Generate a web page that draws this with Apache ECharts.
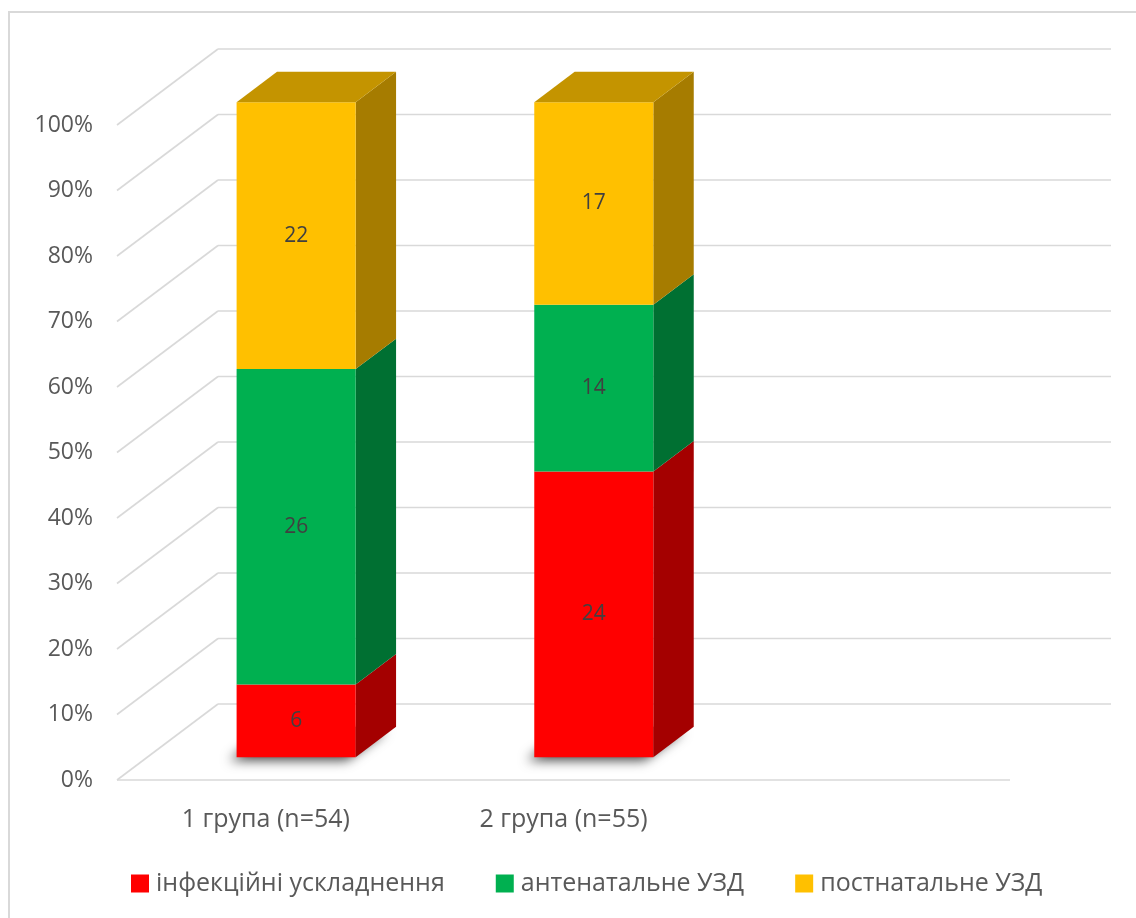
<!DOCTYPE html>
<html>
<head>
<meta charset="utf-8">
<script src="https://cdn.jsdelivr.net/npm/echarts@6/dist/echarts.min.js"></script>
<style>
  html, body { margin: 0; padding: 0; background: #ffffff; }
  #chart { width: 1136px; height: 918px; }
</style>
</head>
<body>
<div id="chart"></div>
<script>
// Groups on the category axis (the last slot is left empty, as in the 3D floor)
const categories = ['1 група (n=54)', '2 група (n=55)', ''];
const seriesNames = ['інфекційні ускладнення', 'антенатальне УЗД', 'постнатальне УЗД'];
// Patient counts per group
const infections = [6, 24];
const antenatal = [26, 14];
const postnatal = [22, 17];
// Value-axis ticks (percent)
const yTicks = [0, 10, 20, 30, 40, 50, 60, 70, 80, 90, 100];

const layers = [infections, antenatal, postnatal];
const faceColors = ['#FF0000', '#00B050', '#FFC000'];
const sideColors = ['#A40000', '#007032', '#A67C00'];
const topColors  = ['#C20000', '#008A3D', '#C49400'];

// Oblique projection: screen offset of the full floor depth
const DEPTH = [101, -76];
const BAR_NEAR = 0.30, BAR_FAR = 0.70;
const FONT = '"Open Sans", "DejaVu Sans", sans-serif';

const totals = infections.map((_, i) => layers.reduce((s, arr) => s + arr[i], 0));

// Build stacked 100% ranges [category, from%, to%, count] for every layer
function layerData(k) {
  return layers[k].map((count, i) => {
    let below = 0;
    for (let j = 0; j < k; j++) below += layers[j][i];
    const lo = below / totals[i] * 100;
    const hi = (below + count) / totals[i] * 100;
    return [i, lo, hi, count];
  });
}

// Back wall, side wall and floor lines for each tick
function renderWalls(params, api) {
  const v = api.value(1);
  const cs = params.coordSys;
  const y = api.coord([0, v])[1];
  const xL = cs.x, xR = cs.x + cs.width;
  const [dx, dy] = DEPTH;
  const style = { stroke: '#D9D9D9', lineWidth: 1.6, fill: null };
  const children = [
    { type: 'line', shape: { x1: xL, y1: y, x2: xL + dx, y2: y + dy }, style },
    { type: 'line', shape: { x1: xL + dx, y1: y + dy, x2: xR + dx, y2: y + dy }, style }
  ];
  if (v === 0) {
    children.push({ type: 'line', shape: { x1: xL, y1: y, x2: xR, y2: y }, style });
  }
  return { type: 'group', children };
}

// One stacked block drawn as a 3D box: front face, right side and (for the top layer) the lid
function makeBarRenderer(k) {
  return function (params, api) {
    const cat = api.value(0), lo = api.value(1), hi = api.value(2), count = api.value(3);
    const band = api.size([1, 0])[0];
    const w = band * 0.4;
    const pLo = api.coord([cat, lo]);
    const pHi = api.coord([cat, hi]);
    const ox = DEPTH[0] * BAR_NEAR, oy = DEPTH[1] * BAR_NEAR;
    const bx = DEPTH[0] * (BAR_FAR - BAR_NEAR), by = DEPTH[1] * (BAR_FAR - BAR_NEAR);
    const x0 = pLo[0] - w / 2 + ox, x1 = x0 + w;
    const yB = pLo[1] + oy, yT = pHi[1] + oy;
    const children = [];
    if (k === 0) {
      // soft contact shadow cast by the box footprint onto the floor
      children.push({
        type: 'polygon',
        shape: { points: [[x0 + 2, yB - 1], [x1, yB - 1], [x1 + bx - 1, yB + by], [x0 + bx, yB + by]] },
        style: { fill: '#888888', shadowBlur: 12, shadowColor: 'rgba(0,0,0,0.75)', shadowOffsetX: -9, shadowOffsetY: 4 }
      });
    }
    children.push({
      type: 'polygon',
      shape: { points: [[x1, yB], [x1 + bx, yB + by], [x1 + bx, yT + by], [x1, yT]] },
      style: { fill: sideColors[k] }
    });
    children.push({
      type: 'rect',
      shape: { x: x0, y: yT, width: w, height: yB - yT },
      style: { fill: faceColors[k] }
    });
    if (k === layers.length - 1) {
      children.push({
        type: 'polygon',
        shape: { points: [[x0, yT], [x0 + bx, yT + by], [x1 + bx, yT + by], [x1, yT]] },
        style: { fill: topColors[k] }
      });
    }
    children.push({
      type: 'text',
      style: {
        x: (x0 + x1) / 2, y: (yB + yT) / 2,
        text: String(count),
        fill: '#404040',
        font: '21px ' + FONT,
        align: 'center', verticalAlign: 'middle'
      }
    });
    return { type: 'group', children };
  };
}

const chart = echarts.init(document.getElementById('chart'), null, { renderer: 'canvas' });

const series = [{
  type: 'custom',
  name: 'walls',
  silent: true,
  z: 1,
  renderItem: renderWalls,
  encode: { x: 0, y: 1 },
  data: yTicks.map(v => [0, v])
}];
layers.forEach((_, k) => {
  series.push({
    type: 'custom',
    name: seriesNames[k],
    z: 2 + k,
    itemStyle: { color: faceColors[k] },
    renderItem: makeBarRenderer(k),
    encode: { x: 0, y: [1, 2] },
    data: layerData(k)
  });
});

chart.setOption({
  animation: false,
  backgroundColor: '#ffffff',
  graphic: [{
    type: 'rect',
    shape: { x: 9, y: 12, width: 1300, height: 1100 },
    style: { fill: null, stroke: '#D9D9D9', lineWidth: 2 },
    silent: true
  }],
  grid: { left: 117, right: 126, top: 125, bottom: 138 },
  xAxis: {
    type: 'category',
    data: categories,
    axisLine: { show: false },
    axisTick: { show: false },
    axisLabel: { margin: 27, color: '#595959', fontSize: 25, fontFamily: FONT }
  },
  yAxis: {
    type: 'value',
    min: 0, max: 100, interval: 10,
    axisLine: { show: false },
    axisTick: { show: false },
    splitLine: { show: false },
    axisLabel: { margin: 24, color: '#595959', fontSize: 23, fontFamily: FONT, formatter: '{value}%' }
  },
  legend: {
    data: seriesNames,
    left: 126, top: 866,
    icon: 'rect',
    itemWidth: 18, itemHeight: 18, itemGap: 51,
    textStyle: { color: '#595959', fontSize: 25, fontFamily: FONT, padding: [0, 0, 0, 2] }
  },
  series
});
</script>
</body>
</html>
